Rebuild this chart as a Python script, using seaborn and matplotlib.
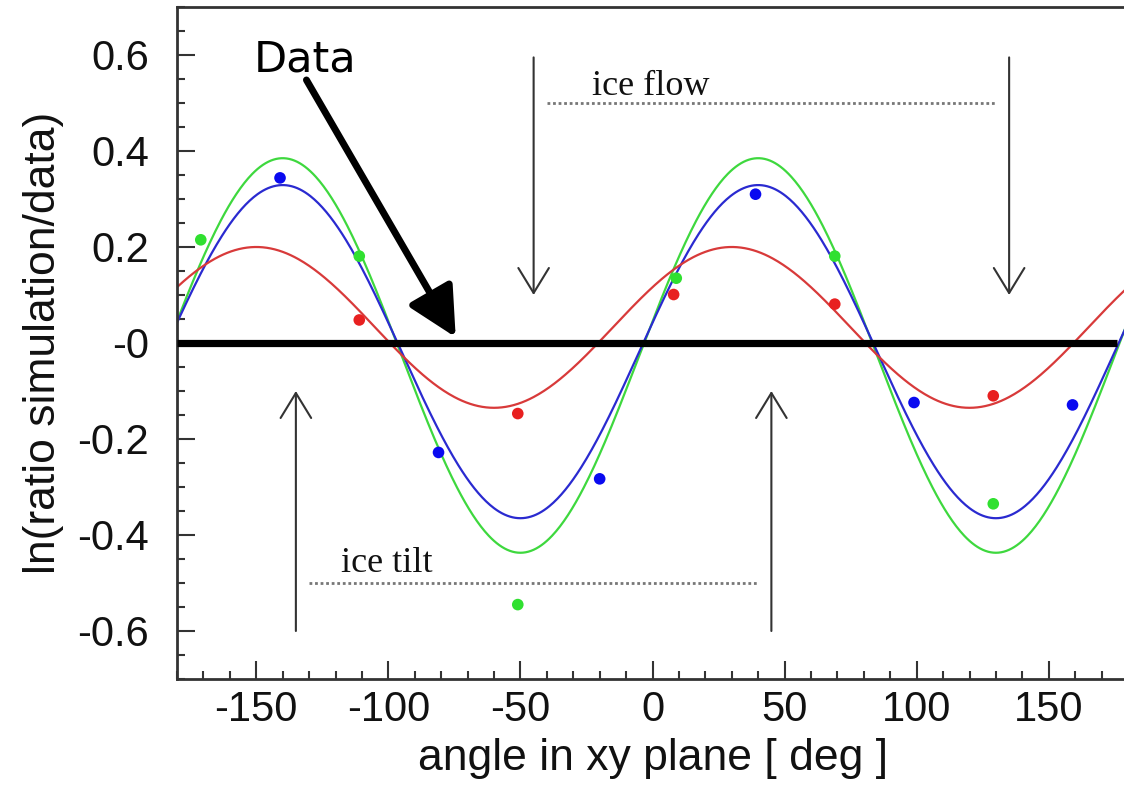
import numpy as np
import pandas as pd
import matplotlib
matplotlib.use("Agg")
import matplotlib.pyplot as plt
from matplotlib.ticker import MultipleLocator
import seaborn as sns

# ---------------- data ----------------
angle_green = [-171, -111, -51, 9, 69, 129]
green_vals = [0.215, 0.181, -0.545, 0.135, 0.181, -0.335]

angle_red = [-111, -51, 8, 69, 129]
red_vals = [0.048, -0.147, 0.101, 0.081, -0.110]

angle_blue = [-141, -81, -20, 39, 99, 159]
blue_vals = [0.344, -0.228, -0.283, 0.310, -0.124, -0.129]

# fitted curves: offset + amplitude * cos(2 * (angle - peak))
fit_series = ["green", "blue", "red"]
fit_offset = [-0.026, -0.018, 0.0325]
fit_amplitude = [0.411, 0.347, 0.1675]
fit_peak_deg = [-140, -140, -150]

x_ticks = [-150, -100, -50, 0, 50, 100, 150]
x_tick_labels = ["-150", "-100", "-50", "0", "50", "100", "150"]
y_ticks = [-0.6, -0.4, -0.2, 0.0, 0.2, 0.4, 0.6]
y_tick_labels = ["-0.6", "-0.4", "-0.2", "-0", "0.2", "0.4", "0.6"]

flow_arrow_angles = [-45, 135]
tilt_arrow_angles = [-135, 45]

# ---------------- styling ----------------
sns.set_style("white")
plt.rcParams["font.family"] = ["Liberation Sans", "DejaVu Sans"]
plt.rcParams["axes.unicode_minus"] = False

line_colors = {"green": "#3ed83e", "blue": "#2a2ad0", "red": "#d83a3a"}
point_colors = {"green": "#30e030", "blue": "#0a0af0", "red": "#e82020"}

fig = plt.figure(figsize=(11.24, 7.87), dpi=100)
ax = fig.add_axes([177 / 1124, 1 - 679 / 787, (1128 - 177) / 1124, (679 - 7) / 787])

# fitted curves
grid = np.linspace(-180, 180, 721)
rows = []
for name, c, a, p in zip(fit_series, fit_offset, fit_amplitude, fit_peak_deg):
    vals = c + a * np.cos(np.deg2rad(2 * (grid - p)))
    rows.append(pd.DataFrame({"angle": grid, "value": vals, "series": name}))
curves = pd.concat(rows, ignore_index=True)
sns.lineplot(data=curves, x="angle", y="value", hue="series", palette=line_colors,
             legend=False, linewidth=1.6, ax=ax, zorder=2, estimator=None, sort=False)

# data points
for xs, ys, name in [(angle_green, green_vals, "green"),
                     (angle_red, red_vals, "red"),
                     (angle_blue, blue_vals, "blue")]:
    sns.scatterplot(x=xs, y=ys, color=point_colors[name], s=70, edgecolor="none",
                    ax=ax, zorder=3, legend=False)

# thick "Data" reference line at zero
ax.plot([-180, 175.7], [0, 0], color="black", linewidth=5.2, zorder=5,
        solid_capstyle="butt")

# ice flow / ice tilt annotations
arrow_kw = dict(arrowstyle="->,head_length=0.9,head_width=0.55", color="#333333",
                lw=1.5, mutation_scale=20, shrinkA=0, shrinkB=0)
for ang in flow_arrow_angles:
    ax.annotate("", xy=(ang, 0.10), xytext=(ang, 0.595), arrowprops=arrow_kw, zorder=4)
for ang in tilt_arrow_angles:
    ax.annotate("", xy=(ang, -0.10), xytext=(ang, -0.60), arrowprops=arrow_kw, zorder=4)

ax.plot([-40, 130], [0.5, 0.5], color="#777777", linewidth=2, linestyle=(0, (1, 1)), zorder=4)
ax.plot([-130, 40], [-0.5, -0.5], color="#777777", linewidth=2, linestyle=(0, (1, 1)), zorder=4)
ax.text(-23, 0.516, "ice flow", family=["Liberation Serif"], fontsize=26,
        color="#111111", ha="left", va="baseline", zorder=4)
ax.text(-118, -0.478, "ice tilt", family=["Liberation Serif"], fontsize=26,
        color="#111111", ha="left", va="baseline", zorder=4)

# "Data" label with big arrow
ax.text(-151, 0.565, "Data", family=["DejaVu Sans"], fontsize=31, color="black",
        ha="left", va="baseline", zorder=6)
ax.annotate("", xy=(-74.5, 0.012), xytext=(-131, 0.548),
            arrowprops=dict(arrowstyle="-|>,head_length=0.75,head_width=0.38",
                            color="black", lw=5, mutation_scale=40,
                            shrinkA=0, shrinkB=0), zorder=6)

# axes
ax.set_xlim(-180, 180)
ax.set_ylim(-0.7, 0.7)
ax.set_xticks(x_ticks, labels=x_tick_labels)
ax.set_yticks(y_ticks, labels=y_tick_labels)
ax.xaxis.set_minor_locator(MultipleLocator(10))
ax.yaxis.set_minor_locator(MultipleLocator(0.05))
ax.tick_params(which="both", direction="in", color="#333333", width=1.5,
               bottom=True, left=True, top=False, right=False)
ax.tick_params(which="major", length=13, labelsize=30, labelcolor="#111111")
ax.tick_params(which="minor", length=6)
ax.tick_params(axis="y", which="major", pad=20)
ax.tick_params(axis="x", which="major", pad=8)
for side in ["left", "bottom", "top", "right"]:
    ax.spines[side].set_color("#333333")
    ax.spines[side].set_linewidth(2)

ax.set_xlabel("angle in xy plane [ deg ]", fontsize=32, color="#111111", labelpad=6)
ax.set_ylabel("ln(ratio simulation/data)", fontsize=32, color="#111111", labelpad=10)

fig.savefig("out.png", dpi=100, facecolor="white")
